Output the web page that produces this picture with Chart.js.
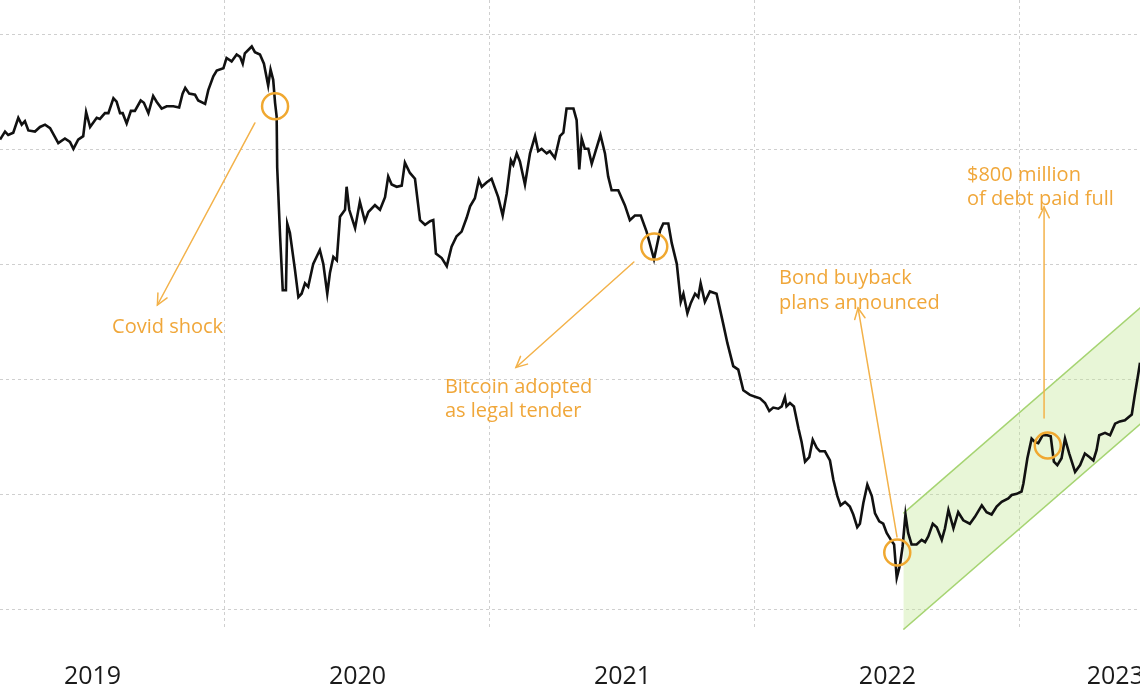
<!DOCTYPE html>
<html>
<head>
<meta charset="utf-8">
<script src="https://cdn.jsdelivr.net/npm/chart.js"></script>
<style>
  html, body { margin: 0; padding: 0; background: #ffffff; }
  canvas { display: block; }
</style>
</head>
<body>
<canvas id="c" width="1140" height="694" style="width:1140px;height:694px;"></canvas>
<script>
// ---- Data (decimal years / bond price) ----
const dates = [
  2019.151,2019.170,2019.182,2019.201,2019.220,2019.233,2019.245,2019.258,2019.283,2019.302,
  2019.321,2019.340,2019.371,2019.396,2019.415,2019.428,2019.446,2019.465,2019.476,2019.491,
  2019.516,2019.528,2019.547,2019.560,2019.579,2019.591,2019.604,2019.614,2019.629,2019.645,
  2019.660,2019.682,2019.694,2019.711,2019.729,2019.742,2019.761,2019.780,2019.805,2019.827,
  2019.840,2019.850,2019.865,2019.887,2019.899,2019.925,2019.937,2019.956,2019.969,2019.994,
  2020.006,2020.025,2020.044,2020.057,2020.067,2020.075,2020.101,2020.113,2020.132,2020.147,
  2020.163,2020.172,2020.182,2020.189,2020.195,2020.197,2020.208,2020.218,2020.230,2020.235,
  2020.245,2020.264,2020.277,2020.289,2020.302,2020.314,2020.333,2020.358,2020.371,2020.386,
  2020.396,2020.409,2020.422,2020.434,2020.453,2020.459,2020.469,2020.491,2020.509,2020.528,
  2020.541,2020.566,2020.585,2020.604,2020.616,2020.629,2020.648,2020.667,2020.679,2020.698,
  2020.717,2020.736,2020.755,2020.774,2020.786,2020.796,2020.818,2020.837,2020.855,2020.874,
  2020.893,2020.912,2020.925,2020.943,2020.958,2020.969,2020.988,2021.006,2021.031,2021.048,
  2021.063,2021.079,2021.088,2021.101,2021.113,2021.132,2021.151,2021.170,2021.182,2021.195,
  2021.214,2021.226,2021.245,2021.264,2021.277,2021.289,2021.302,2021.315,2021.327,2021.337,
  2021.346,2021.358,2021.371,2021.384,2021.396,2021.417,2021.434,2021.446,2021.459,2021.484,
  2021.509,2021.528,2021.547,2021.569,2021.591,2021.619,2021.642,2021.654,2021.673,2021.686,
  2021.705,2021.720,2021.730,2021.745,2021.758,2021.774,2021.786,2021.795,2021.811,2021.830,
  2021.855,2021.880,2021.896,2021.918,2021.937,2021.956,2021.981,2022.006,2022.019,2022.038,
  2022.054,2022.069,2022.088,2022.101,2022.113,2022.119,2022.132,2022.147,2022.164,2022.176,
  2022.189,2022.205,2022.218,2022.233,2022.245,2022.264,2022.283,2022.296,2022.311,2022.323,
  2022.340,2022.358,2022.371,2022.386,2022.396,2022.409,2022.424,2022.441,2022.453,2022.469,
  2022.484,2022.497,2022.513,2022.525,2022.535,2022.547,2022.557,2022.568,2022.578,2022.591,
  2022.610,2022.629,2022.642,2022.654,2022.671,2022.686,2022.705,2022.717,2022.730,2022.749,
  2022.767,2022.786,2022.811,2022.830,2022.856,2022.874,2022.893,2022.912,2022.931,2022.956,
  2022.969,2022.988,2023.006,2023.013,2023.028,2023.044,2023.057,2023.069,2023.086,2023.103,
  2023.116,2023.128,2023.141,2023.157,2023.170,2023.186,2023.208,2023.227,2023.245,2023.262,
  2023.277,2023.289,2023.299,2023.321,2023.340,2023.359,2023.377,2023.396,2023.422,2023.432,
  2023.447,2023.453,2023.462
];
const prices = [
  70.9,71.6,71.3,71.5,72.8,72.2,72.5,71.7,71.6,72.0,
  72.2,71.9,70.6,71.0,70.7,70.1,70.9,71.2,73.3,72.0,
  72.8,72.7,73.2,73.2,74.5,74.2,73.2,73.2,72.3,73.4,
  73.4,74.3,74.1,73.2,74.7,74.2,73.6,73.8,73.8,73.7,
  74.9,75.4,74.9,74.8,74.3,74.0,75.2,76.4,76.9,77.1,
  78.0,77.7,78.3,78.1,77.5,78.4,79.0,78.5,78.3,77.5,
  75.6,77.0,76.1,74.1,72.9,68.5,62.5,57.8,57.8,63.6,
  62.8,59.6,57.2,57.5,58.4,58.1,60.1,61.3,60.1,57.5,
  59.3,60.7,60.4,64.2,64.8,66.8,64.8,63.2,65.5,63.8,
  64.6,65.2,64.8,65.9,67.7,67.0,66.8,66.9,68.9,68.0,
  67.5,63.9,63.5,63.8,63.9,61.0,60.6,59.9,61.6,62.5,
  62.9,64.1,65.1,65.8,67.4,66.8,67.2,67.5,65.9,64.3,
  66.2,69.1,68.7,69.7,69.0,67.0,69.7,71.2,69.9,70.1,
  69.7,69.9,69.3,71.2,71.5,73.6,73.6,73.6,72.6,68.3,
  71.0,70.1,70.1,68.8,69.7,71.3,69.7,67.7,66.5,66.5,
  65.2,63.9,64.3,64.3,62.9,60.5,63.0,63.6,63.6,61.9,
  60.1,56.8,57.5,55.8,56.7,57.5,57.2,58.4,56.8,57.7,
  57.5,54.9,53.2,51.2,50.9,49.1,48.7,48.5,48.4,48.0,
  47.3,47.6,47.5,47.7,48.5,47.7,48.0,47.7,45.8,44.6,
  42.9,43.3,44.8,44.1,43.8,43.8,43.0,41.3,39.9,39.1,
  39.4,39.0,38.3,37.2,37.5,39.3,40.9,39.9,38.4,37.7,
  37.5,36.7,36.1,35.7,32.8,33.9,35.5,38.3,36.7,35.7,
  35.7,36.1,35.9,36.4,37.5,37.2,36.1,37.1,38.7,37.1,
  38.5,37.8,37.5,38.1,39.1,38.5,38.3,39.0,39.4,39.7,
  40.0,40.1,40.3,41.0,43.2,44.9,44.6,44.5,45.2,45.2,
  45.1,42.9,42.6,43.2,44.9,43.6,42.0,42.6,43.6,43.3,
  43.0,43.9,45.2,45.4,45.2,46.2,46.4,46.5,47.0,48.5,
  50.6,51.5,52.4
];

// Axis ranges and ticks
const X_MIN = 2019.151, X_MAX = 2023.453;
const Y_MIN = 28.26, Y_MAX = 83.04;
const gridYears = [2020, 2021, 2022, 2023];
const yearLabels = ['2019', '2020', '2021', '2022', '2023'];
const yearLabelAt = [2019.5, 2020.5, 2021.5, 2022.5, 2023.36];
const yGridValues = [30, 40, 50, 60, 70, 80];

// Recovery channel (upper / lower edges)
const channelDates = [2022.56, 2023.5];
const channelUpper = [38.4, 57.2];
const channelLower = [28.3, 47.1];

// Events
const eventDates  = [2020.189, 2021.620, 2022.537, 2023.105];
const eventValues = [73.8, 61.6, 35.0, 44.3];
const noteLines = [
  ['Covid shock'],
  ['Bitcoin adopted', 'as legal tender'],
  ['Bond buyback', 'plans announced'],
  ['$800 million', 'of debt paid full']
];
const noteAt    = [[2019.574, 54.6], [2020.830, 49.4], [2022.091, 58.8], [2022.800, 67.8]];
const arrowFrom = [[2020.113, 72.35], [2021.543, 60.26], [2022.536, 36.35], [2023.091, 46.7]];
const arrowTo   = [[2019.745, 56.52], [2021.098, 51.09], [2022.389, 56.26], [2023.091, 65.04]];

const ORANGE_TEXT = '#f0a73a';
const ORANGE_LINE = '#f3b24a';
const GRID = '#cfcfcf';
const X_AXIS_HEIGHT = 62;

Chart.defaults.font.family = '"Open Sans", "DejaVu Sans", sans-serif';

const xTickValues = gridYears.concat(yearLabelAt).sort((a, b) => a - b);

const notesPlugin = {
  id: 'notes',
  afterDatasetsDraw(chart) {
    const { ctx } = chart;
    const xs = chart.scales.x, ys = chart.scales.y;
    ctx.save();
    ctx.strokeStyle = ORANGE_LINE;
    ctx.lineWidth = 1.5;
    ctx.lineCap = 'round';
    arrowFrom.forEach((f, i) => {
      const x1 = xs.getPixelForValue(f[0]), y1 = ys.getPixelForValue(f[1]);
      const x2 = xs.getPixelForValue(arrowTo[i][0]), y2 = ys.getPixelForValue(arrowTo[i][1]);
      ctx.beginPath(); ctx.moveTo(x1, y1); ctx.lineTo(x2, y2); ctx.stroke();
      const ang = Math.atan2(y2 - y1, x2 - x1), L = 12, a = 0.45;
      ctx.beginPath();
      ctx.moveTo(x2 - L * Math.cos(ang - a), y2 - L * Math.sin(ang - a));
      ctx.lineTo(x2, y2);
      ctx.lineTo(x2 - L * Math.cos(ang + a), y2 - L * Math.sin(ang + a));
      ctx.stroke();
    });
    ctx.fillStyle = ORANGE_TEXT;
    ctx.font = '20px "Open Sans", "DejaVu Sans", sans-serif';
    ctx.textAlign = 'left';
    ctx.textBaseline = 'middle';
    noteLines.forEach((lines, i) => {
      const px = xs.getPixelForValue(noteAt[i][0]), py = ys.getPixelForValue(noteAt[i][1]);
      lines.forEach((s, j) => ctx.fillText(s, px, py + j * 24.5));
    });
    ctx.restore();
  }
};

new Chart(document.getElementById('c'), {
  type: 'line',
  data: {
    datasets: [
      {
        label: 'Bond price',
        data: dates.map((d, i) => ({ x: d, y: prices[i] })),
        borderColor: '#111111',
        borderWidth: 2.6,
        pointRadius: 0,
        tension: 0,
        fill: false,
        order: 1
      },
      {
        label: 'Channel upper',
        data: channelDates.map((d, i) => ({ x: d, y: channelUpper[i] })),
        borderColor: '#a6d472',
        borderWidth: 1.5,
        pointRadius: 0,
        fill: false,
        order: 3
      },
      {
        label: 'Channel lower',
        data: channelDates.map((d, i) => ({ x: d, y: channelLower[i] })),
        borderColor: '#a6d472',
        borderWidth: 1.5,
        backgroundColor: 'rgba(190,230,145,0.36)',
        pointRadius: 0,
        fill: '-1',
        order: 3
      },
      {
        label: 'Events',
        data: eventDates.map((d, i) => ({ x: d, y: eventValues[i] })),
        showLine: false,
        pointRadius: 13,
        pointBorderWidth: 2.5,
        pointBorderColor: '#f0a830',
        pointBackgroundColor: 'rgba(0,0,0,0)',
        order: 0
      }
    ]
  },
  options: {
    responsive: false,
    animation: false,
    devicePixelRatio: 1,
    events: [],
    layout: { autoPadding: false, padding: { left: 0, right: 0, top: 0, bottom: 2 } },
    plugins: { legend: { display: false }, tooltip: { enabled: false } },
    scales: {
      x: {
        type: 'linear',
        position: 'bottom',
        min: X_MIN, max: X_MAX,
        afterBuildTicks: (s) => { s.ticks = xTickValues.map(v => ({ value: v })); },
        afterFit: (s) => { s.paddingLeft = 0; s.paddingRight = 0; s.height = X_AXIS_HEIGHT; },
        ticks: {
          callback: (v) => {
            const k = yearLabelAt.indexOf(v);
            return k >= 0 ? yearLabels[k] : '';
          },
          font: { size: 25 },
          color: '#1a1a1a',
          padding: 32,
          autoSkip: false,
          maxRotation: 0
        },
        grid: {
          drawTicks: false,
          lineWidth: 1,
          color: (c) => (c.tick && gridYears.includes(c.tick.value)) ? GRID : 'rgba(0,0,0,0)'
        },
        border: { display: false, dash: [3, 3] }
      },
      y: {
        type: 'linear',
        min: Y_MIN, max: Y_MAX,
        afterBuildTicks: (s) => { s.ticks = yGridValues.map(v => ({ value: v })); },
        ticks: { display: false },
        grid: { color: GRID, lineWidth: 1, drawTicks: false },
        border: { display: false, dash: [3, 3] }
      }
    }
  },
  plugins: [notesPlugin]
});
</script>
</body>
</html>
